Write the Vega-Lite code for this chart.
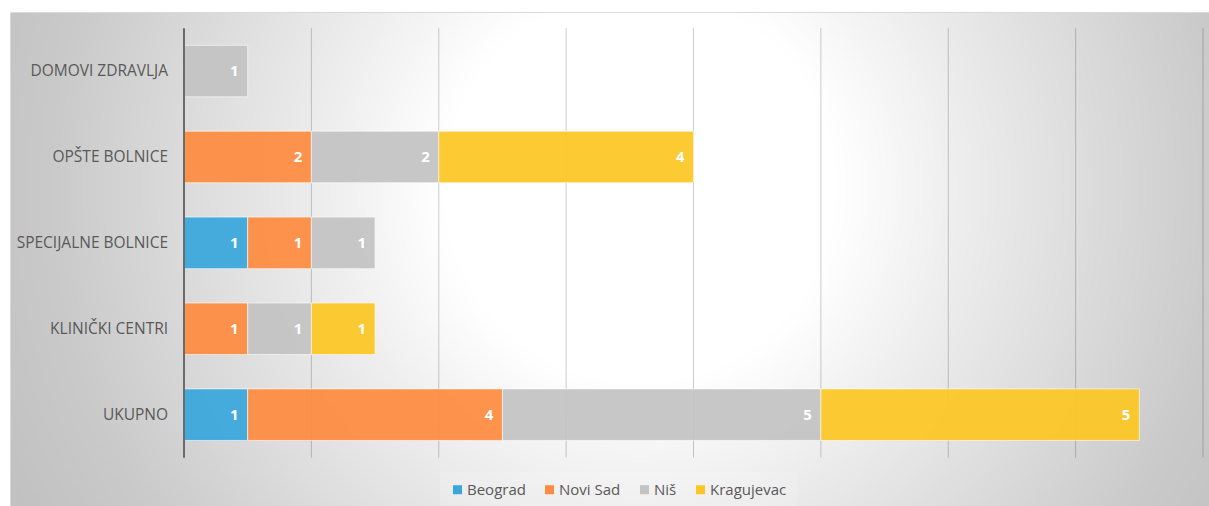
{
  "$schema": "https://vega.github.io/schema/vega-lite/v6.json",
  "width": 1209,
  "height": 506,
  "autosize": {"type": "fit", "contains": "padding"},
  "padding": {"left": 10, "top": 12, "right": 0, "bottom": 0},
  "background": "white",
  "config": {
    "view": {
      "fill": {
        "gradient": "radial",
        "x1": 0.525, "y1": 0.44, "r1": 0,
        "x2": 0.525, "y2": 0.44, "r2": 0.58,
        "stops": [
          {"offset": 0, "color": "#ffffff"},
          {"offset": 0.28, "color": "#ffffff"},
          {"offset": 0.45, "color": "#eeeeee"},
          {"offset": 0.85, "color": "#c9c9c9"},
          {"offset": 1, "color": "#c1c1c1"}
        ]
      },
      "stroke": "#d9d9d9",
      "strokeWidth": 1
    },
    "font": "Open Sans"
  },
  "datasets": {
    "bars": [
      {"cat": "DOMOVI ZDRAVLJA", "city": "Niš", "value": 1, "ord": 3},
      {"cat": "OPŠTE BOLNICE", "city": "Novi Sad", "value": 2, "ord": 2},
      {"cat": "OPŠTE BOLNICE", "city": "Niš", "value": 2, "ord": 3},
      {"cat": "OPŠTE BOLNICE", "city": "Kragujevac", "value": 4, "ord": 4},
      {"cat": "SPECIJALNE BOLNICE", "city": "Beograd", "value": 1, "ord": 1},
      {"cat": "SPECIJALNE BOLNICE", "city": "Novi Sad", "value": 1, "ord": 2},
      {"cat": "SPECIJALNE BOLNICE", "city": "Niš", "value": 1, "ord": 3},
      {"cat": "KLINIČKI CENTRI", "city": "Novi Sad", "value": 1, "ord": 2},
      {"cat": "KLINIČKI CENTRI", "city": "Niš", "value": 1, "ord": 3},
      {"cat": "KLINIČKI CENTRI", "city": "Kragujevac", "value": 1, "ord": 4},
      {"cat": "UKUPNO", "city": "Beograd", "value": 1, "ord": 1},
      {"cat": "UKUPNO", "city": "Novi Sad", "value": 4, "ord": 2},
      {"cat": "UKUPNO", "city": "Niš", "value": 5, "ord": 3},
      {"cat": "UKUPNO", "city": "Kragujevac", "value": 5, "ord": 4}
    ],
    "ticks": [
      {"v": 2}, {"v": 4}, {"v": 6}, {"v": 8}, {"v": 10}, {"v": 12}, {"v": 14}, {"v": 16}
    ]
  },
  "encoding": {
    "x": {
      "type": "quantitative",
      "scale": {"domain": [-2.7321, 16.0942], "nice": false, "zero": false},
      "axis": null
    },
    "y": {
      "type": "nominal",
      "scale": {
        "type": "band",
        "domain": ["DOMOVI ZDRAVLJA", "OPŠTE BOLNICE", "SPECIJALNE BOLNICE", "KLINIČKI CENTRI", "UKUPNO"],
        "paddingInner": 0.4,
        "paddingOuter": 0.5755,
        "align": 0.337,
        "round": false
      },
      "axis": null
    }
  },
  "layer": [
    {
      "data": {"name": "ticks"},
      "mark": {"type": "rule", "color": "#000000", "opacity": 0.2, "strokeWidth": 1},
      "encoding": {
        "x": {"field": "v", "type": "quantitative"},
        "y": {"datum": "DOMOVI ZDRAVLJA", "type": "nominal", "bandPosition": -0.3333},
        "y2": {"datum": "UKUPNO", "bandPosition": 1.3333}
      }
    },
    {
      "data": {"name": "bars"},
      "transform": [
        {"stack": "value", "groupby": ["cat"], "sort": [{"field": "ord"}], "as": ["x0", "x1"]}
      ],
      "layer": [
        {
          "mark": {"type": "bar", "fillOpacity": 0.93, "stroke": "#ffffff", "strokeWidth": 1, "strokeOpacity": 0.6},
          "encoding": {
            "x": {"field": "x0", "type": "quantitative"},
            "x2": {"field": "x1"},
            "y": {"field": "cat", "type": "nominal"},
            "color": {
              "field": "city",
              "type": "nominal",
              "scale": {
                "domain": ["Beograd", "Novi Sad", "Niš", "Kragujevac"],
                "range": ["#39a6dc", "#fd8b3f", "#c3c3c3", "#fcc624"]
              },
              "legend": {
                "orient": "none",
                "legendX": 430,
                "legendY": 460,
                "direction": "horizontal",
                "title": null,
                "symbolType": "square",
                "symbolSize": 81,
                "symbolStrokeWidth": 0,
                "symbolOpacity": 1,
                "labelFont": "Open Sans",
                "labelFontSize": 15,
                "labelColor": "#595959",
                "labelOffset": 2,
                "columnPadding": 16,
                "padding": 10,
                "fillColor": "rgba(255,255,255,0.15)"
              }
            }
          }
        },
        {
          "mark": {"type": "text", "align": "right", "baseline": "middle", "dx": -9, "color": "#ffffff", "fontWeight": "bold", "fontSize": 15, "font": "Open Sans"},
          "encoding": {
            "x": {"field": "x1", "type": "quantitative"},
            "y": {"field": "cat", "type": "nominal"},
            "text": {"field": "value", "type": "quantitative"}
          }
        },
        {
          "transform": [{"aggregate": [{"op": "count", "as": "n"}], "groupby": ["cat"]}],
          "mark": {"type": "text", "align": "right", "baseline": "middle", "color": "#595959", "fontSize": 15.5, "font": "Open Sans"},
          "encoding": {
            "x": {"datum": -0.25, "type": "quantitative"},
            "y": {"field": "cat", "type": "nominal"},
            "text": {"field": "cat", "type": "nominal"}
          }
        }
      ]
    },
    {
      "data": {"values": [{"v": 0}]},
      "mark": {"type": "rule", "color": "#6b6b6b", "strokeWidth": 2},
      "encoding": {
        "x": {"field": "v", "type": "quantitative"},
        "y": {"datum": "DOMOVI ZDRAVLJA", "type": "nominal", "bandPosition": -0.3333},
        "y2": {"datum": "UKUPNO", "bandPosition": 1.3333}
      }
    }
  ]
}
